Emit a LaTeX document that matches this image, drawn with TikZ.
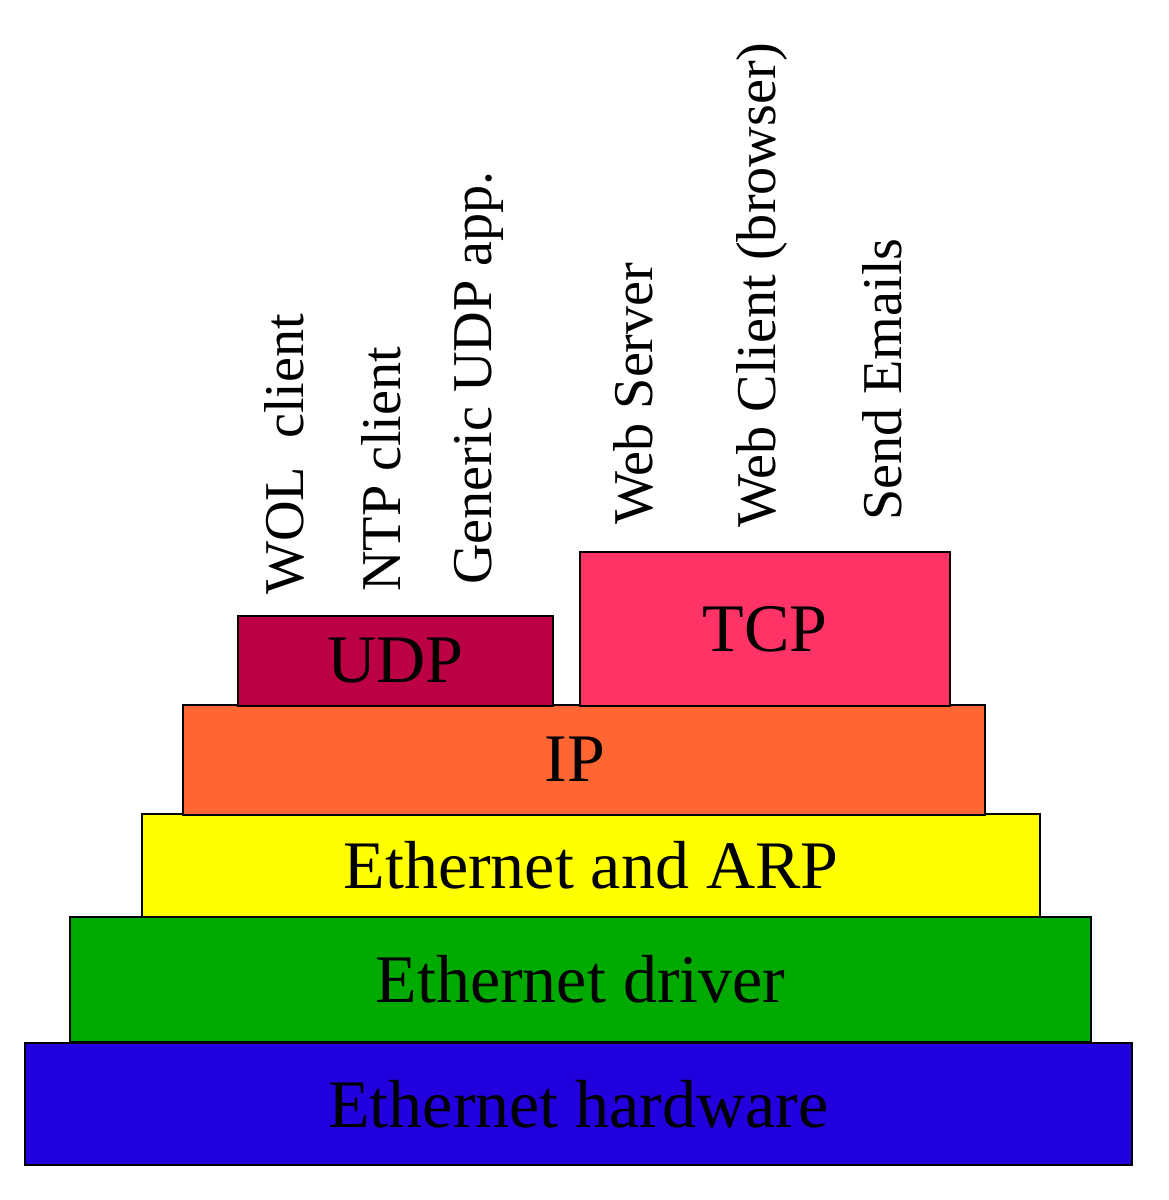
\documentclass[tikz,border=0pt]{standalone}
\usepackage{fontspec}
\setmainfont{Liberation Serif}
\definecolor{hwblue}{HTML}{2200DD}
\definecolor{drvgreen}{HTML}{00AA00}
\definecolor{arpyellow}{HTML}{FFFF00}
\definecolor{iporange}{HTML}{FF6633}
\definecolor{udpred}{HTML}{BB0044}
\definecolor{tcppink}{HTML}{FF3366}
\tikzset{
  layer/.style={draw=black, line width=1.5pt, rectangle, inner sep=0pt, outer sep=0pt,
    font=\fontsize{68}{80}\selectfont, text=black},
  boxlabel/.style={inner sep=0pt, font=\fontsize{68}{80}\selectfont, text=black},
  app/.style={rotate=90, anchor=base west, inner sep=0pt,
    font=\fontsize{56.2}{66}\selectfont, text=black}
}
\begin{document}
\begin{tikzpicture}[x=1pt,y=-1pt]
\useasboundingbox (0,0) rectangle (1168,1200);
\node[layer, fill=hwblue, minimum width=1107pt, minimum height=122pt] (hw) at (578.5,1104) {Ethernet hardware};
\node[layer, fill=drvgreen, minimum width=1021pt, minimum height=125pt] (drv) at (580.5,979.5) {Ethernet driver};
\node[layer, fill=arpyellow, minimum width=898pt, minimum height=103pt] (arp) at (591,865.5) {Ethernet and ARP};
\node[layer, fill=iporange, minimum width=802pt, minimum height=110pt] (ip) at (584,760) {};
\node[boxlabel] (iplabel) at (575,759) {IP};
\node[layer, fill=udpred, minimum width=315pt, minimum height=90pt] (udp) at (395.5,661) {UDP};
\node[layer, fill=tcppink, minimum width=370pt, minimum height=154pt] (tcp) at (765,629) {TCP};
\node[app] (wol) at (303,595) {WOL\ \ client};
\node[app] (ntp) at (400,592) {NTP client};
\node[app] (gen) at (491,585) {Generic UDP app.};
\node[app] (wsrv) at (652,525) {Web Server};
\node[app] (wcli) at (775,528) {Web Client (browser)};
\node[app] (mail) at (901,521) {Send Emails};
\end{tikzpicture}
\end{document}
